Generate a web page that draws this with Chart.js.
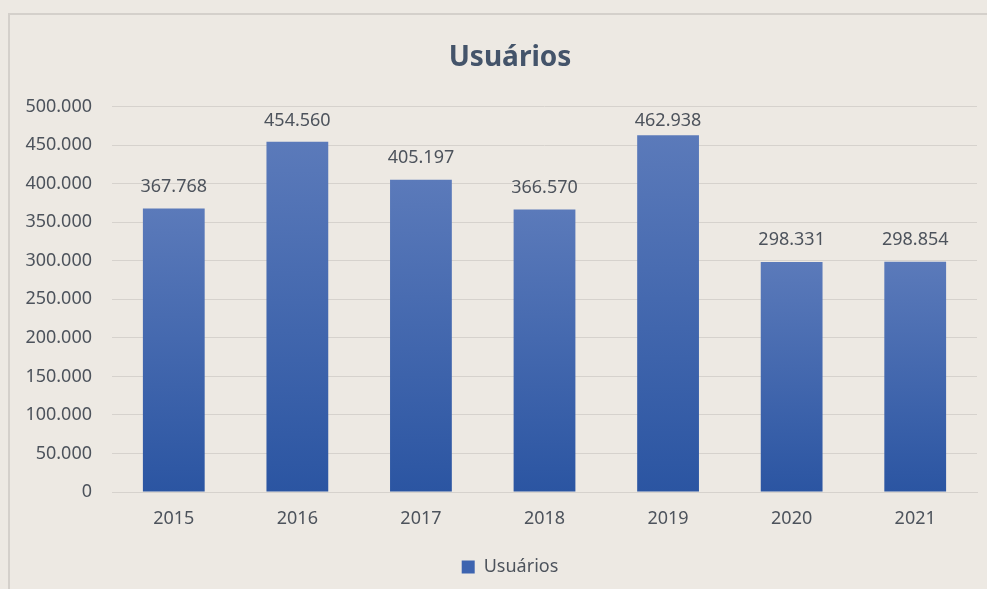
<!DOCTYPE html>
<html lang="pt">
<head>
    <meta charset="UTF-8">
    <title>Usuários</title>
    <script src="https://cdn.jsdelivr.net/npm/chart.js"></script>
    <style>
        html, body { margin: 0; padding: 0; background: #ede9e3; overflow: hidden; }
        #frame { position: absolute; left: 8px; top: 13px; width: 1000px; height: 600px; border: 2px solid #d4d0cb; }
        #wrap { position: absolute; left: 0; top: 0; width: 987px; height: 589px; }
    </style>
</head>
<body>
    <div id="frame"></div>
    <div id="wrap"><canvas id="chart"></canvas></div>

    <script>
        const years = ['2015', '2016', '2017', '2018', '2019', '2020', '2021'];
        const usuarios = [367768, 454560, 405197, 366570, 462938, 298331, 298854];
        const yMax = 500000;
        const yStep = 50000;

        // 1234567 -> "1.234.567"
        function fmt(v) {
            return String(v).replace(/\B(?=(\d{3})+(?!\d))/g, '.');
        }

        const font = "'Noto Sans', 'Open Sans', sans-serif";
        const textColor = '#4d535c';
        const gridColor = '#d6d2cd';

        // gradient per bar, light at the top, dark at the base
        function barFill(ctx) {
            const chart = ctx.chart;
            if (ctx.type !== 'data' || !chart.chartArea) return '#3d64b0';
            const y = chart.scales.y;
            const top = y.getPixelForValue(ctx.raw);
            const base = y.getPixelForValue(0);
            const g = chart.ctx.createLinearGradient(0, top, 0, base);
            g.addColorStop(0, '#5b7aba');
            g.addColorStop(1, '#2b55a2');
            return g;
        }

        const valueLabels = {
            id: 'valueLabels',
            // left padding is there to centre title/legend; let the y labels use it
            afterLayout(chart) {
                chart.scales.y.left = 0;
            },
            afterDatasetsDraw(chart) {
                const c = chart.ctx;
                const meta = chart.getDatasetMeta(0);
                c.save();
                c.font = '18px ' + font;
                c.fillStyle = textColor;
                c.textAlign = 'center';
                c.textBaseline = 'middle';
                meta.data.forEach((bar, i) => {
                    const y = Math.max(bar.y - 22, chart.chartArea.top + 14);
                    c.fillText(fmt(usuarios[i]), bar.x, y);
                });
                c.restore();
            }
        };

        new Chart(document.getElementById('chart'), {
            type: 'bar',
            data: {
                labels: years,
                datasets: [{
                    label: 'Usuários',
                    data: usuarios,
                    backgroundColor: barFill,
                    borderWidth: 0,
                    categoryPercentage: 1,
                    barPercentage: 0.5
                }]
            },
            options: {
                responsive: true,
                maintainAspectRatio: false,
                animation: false,
                layout: { padding: { left: 43, right: 10, top: 0, bottom: 3 } },
                plugins: {
                    title: {
                        display: true,
                        text: 'Usuários',
                        color: '#44546a',
                        font: { family: font, size: 28, weight: 'bold' },
                        padding: { top: 41, bottom: 32 }
                    },
                    legend: {
                        position: 'bottom',
                        labels: {
                            color: textColor,
                            font: { family: font, size: 18 },
                            boxWidth: 13,
                            boxHeight: 13,
                            padding: 4,
                            generateLabels: (chart) => [{
                                text: 'Usuários',
                                fillStyle: '#3d64b0',
                                strokeStyle: '#3d64b0',
                                lineWidth: 0,
                                datasetIndex: 0,
                                fontColor: textColor
                            }]
                        }
                    },
                    tooltip: { enabled: false }
                },
                scales: {
                    x: {
                        grid: { display: false, drawTicks: false },
                        border: { color: gridColor, width: 1 },
                        ticks: { color: textColor, font: { family: font, size: 18 }, padding: 16 },
                        afterFit: (s) => { s.height = 62; }
                    },
                    y: {
                        min: 0,
                        max: yMax,
                        grid: { color: gridColor, lineWidth: 1, drawTicks: false },
                        border: { display: false },
                        ticks: {
                            stepSize: yStep,
                            color: textColor,
                            font: { family: font, size: 18 },
                            padding: 20,
                            callback: (v) => fmt(v)
                        },
                        afterFit: (s) => { s.width = 69; }
                    }
                }
            },
            plugins: [valueLabels]
        });
    </script>
</body>
</html>
